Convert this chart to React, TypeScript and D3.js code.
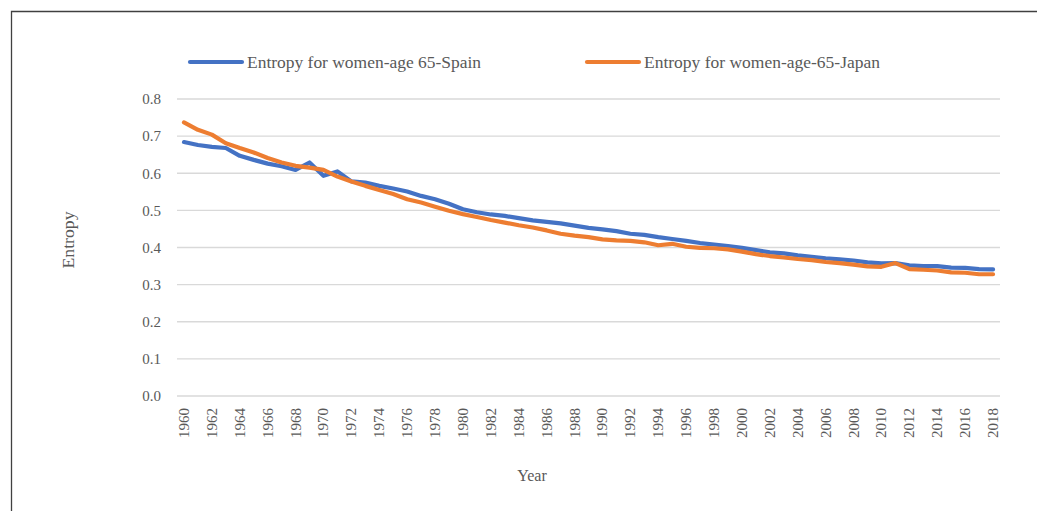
import React from "react";
import * as d3 from "d3";

const years: number[] = d3.range(1960, 2019);
const spain: number[] = [
  0.684, 0.676, 0.671, 0.668, 0.647, 0.636, 0.626, 0.619, 0.609, 0.629,
  0.593, 0.605, 0.578, 0.575, 0.566, 0.559, 0.551, 0.539, 0.530, 0.518,
  0.503, 0.495, 0.489, 0.485, 0.479, 0.473, 0.469, 0.465, 0.459, 0.453,
  0.449, 0.444, 0.437, 0.434, 0.428, 0.423, 0.418, 0.412, 0.408, 0.404,
  0.399, 0.393, 0.387, 0.384, 0.379, 0.375, 0.371, 0.368, 0.365, 0.360,
  0.357, 0.358, 0.352, 0.350, 0.350, 0.346, 0.345, 0.342, 0.341,
];
const japan: number[] = [
  0.737, 0.717, 0.704, 0.681, 0.668, 0.656, 0.641, 0.629, 0.620, 0.615,
  0.609, 0.591, 0.578, 0.566, 0.555, 0.544, 0.530, 0.521, 0.510, 0.499,
  0.490, 0.482, 0.474, 0.467, 0.460, 0.454, 0.446, 0.437, 0.432, 0.428,
  0.422, 0.419, 0.418, 0.414, 0.406, 0.410, 0.402, 0.399, 0.398, 0.395,
  0.389, 0.382, 0.377, 0.373, 0.369, 0.366, 0.361, 0.358, 0.354, 0.349,
  0.348, 0.358, 0.342, 0.340, 0.338, 0.333, 0.332, 0.328, 0.328,
];
const yTicks: number[] = [0, 0.1, 0.2, 0.3, 0.4, 0.5, 0.6, 0.7, 0.8];
const seriesNames: string[] = ["Entropy for women-age 65-Spain", "Entropy for women-age-65-Japan"];
const colors: string[] = ["#4472C4", "#ED7D31"];

const W = 1037;
const H = 511;
const FONT = "'Liberation Serif', 'Times New Roman', serif";

export default function App() {
  const x = d3.scaleBand<number>().domain(years).range([177, 1000]);
  const y = d3.scaleLinear().domain([0, 0.8]).range([396, 99]);
  const cx = (yr: number) => (x(yr) as number) + x.bandwidth() / 2;
  const line = d3
    .line<number>()
    .x((_, i) => cx(years[i]))
    .y((v) => y(v));
  const series = [spain, japan];
  const legendX = [190, 587];
  const legendLen = [234, 236];

  return (
    <svg
      width={W}
      height={H}
      style={{ position: "absolute", left: 0, top: 0, background: "#fff" }}
      fontFamily={FONT}
    >
      <rect x={0} y={0} width={W} height={H} fill="#fff" />
      <path d={`M11.5,${H} V11.5 H${W}`} fill="none" stroke="#404040" strokeWidth={1.3} />
      {yTicks.map((t) => (
        <g key={t}>
          <line x1={177} x2={1000} y1={y(t)} y2={y(t)} stroke="#d9d9d9" strokeWidth={1.3} />
          <text x={161} y={y(t)} dy="0.35em" textAnchor="end" fontSize={15} fill="#595959">
            {d3.format(".1f")(t)}
          </text>
        </g>
      ))}
      {years
        .filter((yr) => (yr - 1960) % 2 === 0)
        .map((yr) => (
          <text
            key={yr}
            transform={`translate(${cx(yr) + 5},408) rotate(-90)`}
            textAnchor="end"
            fontSize={15}
            fill="#595959"
          >
            {yr}
          </text>
        ))}
      {series.map((s, i) => (
        <path
          key={i}
          d={line(s) || ""}
          fill="none"
          stroke={colors[i]}
          strokeWidth={4.2}
          strokeLinejoin="round"
          strokeLinecap="round"
        />
      ))}
      {seriesNames.map((n, i) => (
        <g key={n}>
          <line
            x1={legendX[i]}
            x2={legendX[i] + 52}
            y1={62}
            y2={62}
            stroke={colors[i]}
            strokeWidth={4.2}
            strokeLinecap="round"
          />
          <text
            x={legendX[i] + 57}
            y={62}
            dy="0.35em"
            fontSize={16}
            fill="#595959"
            textLength={legendLen[i]}
            lengthAdjust="spacingAndGlyphs"
          >
            {n}
          </text>
        </g>
      ))}
      <text
        transform={`translate(74,240) rotate(-90)`}
        textAnchor="middle"
        fontSize={16}
        fill="#595959"
        textLength={57}
        lengthAdjust="spacingAndGlyphs"
      >
        Entropy
      </text>
      <text x={532} y={481} textAnchor="middle" fontSize={16} fill="#595959">
        Year
      </text>
    </svg>
  );
}
